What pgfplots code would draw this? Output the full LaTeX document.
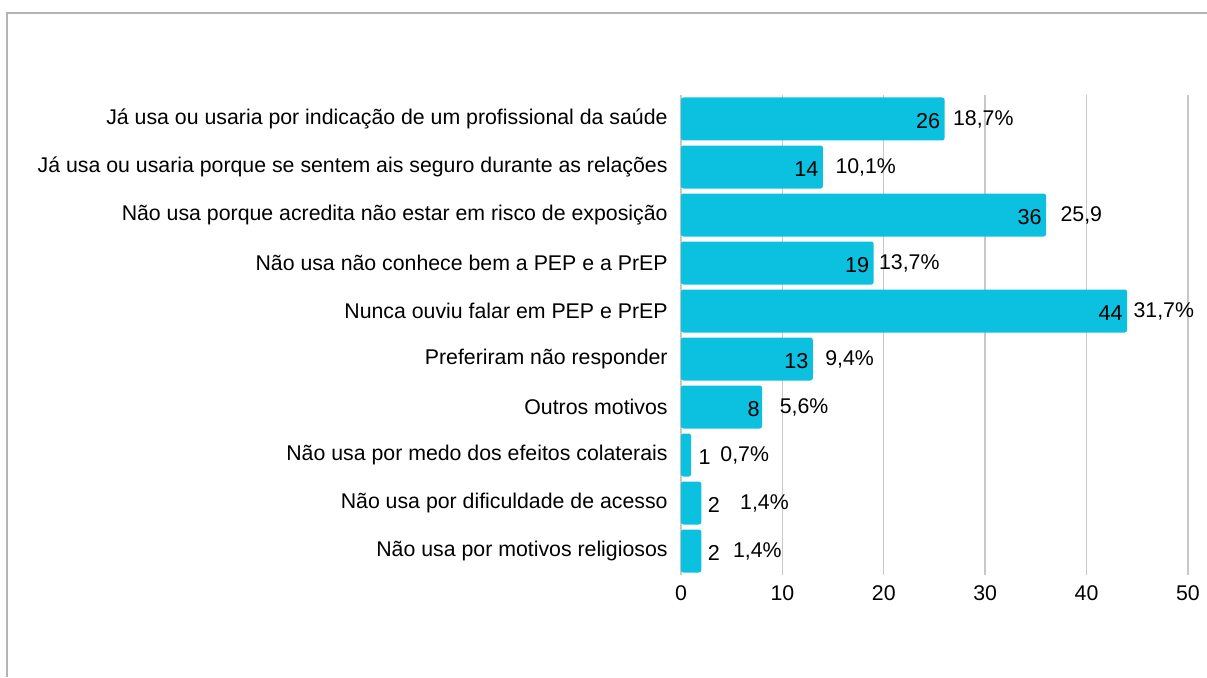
\documentclass[border=0pt]{standalone}
\usepackage{pgfplots}
\pgfplotsset{compat=1.18}
\usepackage{pgfplotstable}
\usepackage{fontspec}
\setmainfont{Liberation Sans}
\definecolor{barc}{RGB}{12,192,224}
\definecolor{gridc}{RGB}{200,200,200}
\definecolor{borderc}{RGB}{180,180,180}
\pgfplotstableread[col sep=comma]{
y,v,px,pct
0,26,26.8,{18,7\%}
1,14,15.2,{10,1\%}
2,36,37.4,{25,9}
3,19,19.5,{13,7\%}
4,44,44.6,{31,7\%}
5,13,14.2,{9,4\%}
6,8,9.7,{5,6\%}
7,1,3.85,{0,7\%}
8,2,5.8,{1,4\%}
9,2,5.1,{1,4\%}
}\data
\pgfplotstableread[col sep=comma]{
y,v,lx
0,26,25.6
1,14,13.6
2,36,35.6
3,19,18.6
4,44,43.6
5,13,12.6
6,8,7.8
}\inlab
\pgfplotstableread[col sep=comma]{
y,v,lx
7,1,1.7
8,2,2.6
9,2,2.6
}\outlab
\begin{document}
\begin{tikzpicture}
\useasboundingbox (0,0) rectangle (603.5pt,338.5pt);
\draw[borderc, line width=1pt] (3.25pt,0) -- (3.25pt,332.25pt) -- (603.5pt,332.25pt);
\begin{axis}[
  at={(340.5pt,51pt)}, anchor=south west,
  scale only axis, width=253.5pt, height=240pt,
  xmin=0, xmax=50, ymin=-0.5, ymax=9.5,
  y dir=reverse,
  xtick={0,10,20,30,40,50},
  ytick={0,...,9},
  yticklabels={
    {Já usa ou usaria por indicação de um profissional da saúde},
    {Já usa ou usaria porque se sentem ais seguro durante as relações},
    {Não usa porque acredita não estar em risco de exposição},
    {Não usa não conhece bem a PEP e a PrEP},
    {Nunca ouviu falar em PEP e PrEP},
    {Preferiram não responder},
    {Outros motivos},
    {Não usa por medo dos efeitos colaterais},
    {Não usa por dificuldade de acesso},
    {Não usa por motivos religiosos}},
  axis line style={draw=none},
  major tick length=0pt,
  xmajorgrids, grid style={gridc, line width=0.7pt},
  tick label style={font=\fontsize{10.65pt}{12pt}\selectfont, text=black},
  yticklabel style={anchor=east, inner sep=0pt, xshift=-6.5pt},
  xticklabel style={anchor=north, inner sep=0pt, yshift=-5pt},
  /pgf/number format/assume math mode=true,
  clip=false,
]
\addplot[xbar, bar width=21.5pt, bar shift=0pt, fill=barc, draw=none, rounded corners=1.2pt] table[x=v, y=y] {\data};
\addplot[draw=none, mark=none, nodes near coords, point meta=explicit symbolic,
  nodes near coords style={anchor=west, inner sep=0pt, font=\fontsize{10.65pt}{12pt}\selectfont}]
  table[x=px, y=y, meta=pct] {\data};
\addplot[draw=none, mark=none, nodes near coords, point meta=explicit,
  nodes near coords style={anchor=east, inner sep=0pt, yshift=-1pt, font=\fontsize{10.8pt}{12pt}\selectfont}]
  table[x=lx, y=y, meta=v] {\inlab};
\addplot[draw=none, mark=none, nodes near coords, point meta=explicit,
  nodes near coords style={anchor=west, inner sep=0pt, yshift=-1pt, font=\fontsize{10.8pt}{12pt}\selectfont}]
  table[x=lx, y=y, meta=v] {\outlab};
\end{axis}
\end{tikzpicture}
\end{document}
